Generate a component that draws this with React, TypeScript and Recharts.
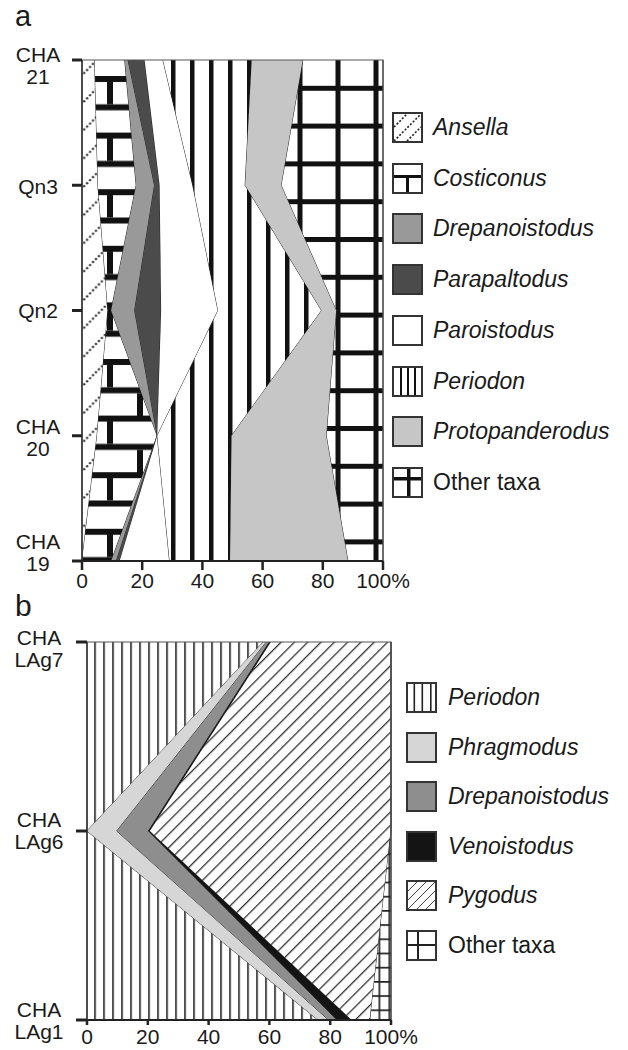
import React from "react";
import { AreaChart, Area, XAxis, YAxis, ReferenceArea } from "recharts";

// ---------- Panel a data ----------
const categoriesA = ["CHA 21", "Qn3", "Qn2", "CHA 20", "CHA 19"];
const seriesNamesA = [
  "Ansella",
  "Costiconus",
  "Drepanoistodus",
  "Parapaltodus",
  "Paroistodus",
  "Periodon",
  "Protopanderodus",
  "Other taxa",
];
const ansella = [4.2, 5.3, 8.6, 5, 0];
const costiconus = [10, 12.7, 1.1, 20, 9.7];
const drepanoistodusA = [1.1, 6.1, 7.8, 0, 1.7];
const parapaltodus = [5.5, 1.7, 8.8, 0, 1.1];
const paroistodus = [6.1, 11, 18.9, 0, 16.6];
const periodonA = [29.5, 17.4, 34.4, 24.7, 20.1];
const protopanderodus = [17.1, 12.1, 5, 31.6, 39.3];
const otherA = [26.5, 33.7, 15.4, 18.7, 11.5];
const valuesA = [ansella, costiconus, drepanoistodusA, parapaltodus, paroistodus, periodonA, protopanderodus, otherA];

// ---------- Panel b data ----------
const categoriesB = ["CHA LAg7", "CHA LAg6", "CHA LAg1"];
const seriesNamesB = ["Periodon", "Phragmodus", "Drepanoistodus", "Venoistodus", "Pygodus", "Other taxa"];
const periodonB = [58, 0, 76];
const phragmodus = [1, 9.8, 3.5];
const drepanoistodusB = [1, 10.4, 2.8];
const venoistodus = [0.5, 0.5, 4.8];
const pygodus = [39.5, 79.3, 6];
const otherB = [0, 0, 6.9];
const valuesB = [periodonB, phragmodus, drepanoistodusB, venoistodus, pygodus, otherB];

const xTicks = [0, 20, 40, 60, 80, 100];

const dataA = categoriesA.map((name, i) => {
  const row: Record<string, any> = { name };
  seriesNamesA.forEach((s, j) => (row[s] = valuesA[j][i]));
  return row;
});
const dataB = categoriesB.map((name, i) => {
  const row: Record<string, any> = { name };
  seriesNamesB.forEach((s, j) => (row[s] = valuesB[j][i]));
  return row;
});

// ---------- styles ----------
const FONT = "'Liberation Sans', Arial, sans-serif";
const fillsA: Record<string, string> = {
  Ansella: "url(#pa-ans)",
  Costiconus: "url(#pa-cost)",
  Drepanoistodus: "#999999",
  Parapaltodus: "#4b4b4b",
  Paroistodus: "#ffffff",
  Periodon: "url(#pa-per)",
  Protopanderodus: "#c6c6c6",
  "Other taxa": "url(#pa-oth)",
};
const fillsB: Record<string, string> = {
  Periodon: "url(#pb-per)",
  Phragmodus: "#d6d6d6",
  Drepanoistodus: "#8e8e8e",
  Venoistodus: "#141414",
  Pygodus: "url(#pb-pyg)",
  "Other taxa": "url(#pb-oth)",
};
const labelShiftA = [5, 1, 0, 2, -9];
const labelShiftB = [6, -1, 0];

const Defs = () => (
  <svg width={0} height={0} style={{ position: "absolute", left: 0, top: 0 }}>
    <defs>
      <pattern id="pa-ans" patternUnits="userSpaceOnUse" width={28} height={28.3} x={81.5} y={19}>
        <rect width={28} height={28.3} fill="#fff" />
        <line x1={-1} y1={29.3} x2={29} y2={-1} stroke="#111" strokeWidth={2} strokeDasharray="2 2.2" />
      </pattern>
      <pattern id="pa-cost" patternUnits="userSpaceOnUse" width={60} height={56.6} x={107} y={76}>
        <rect width={60} height={56.6} fill="#fff" />
        <rect x={0} y={0} width={60} height={6} fill="#111" />
        <rect x={0} y={28.3} width={60} height={6} fill="#111" />
        <rect x={0} y={6} width={6} height={22.3} fill="#111" />
        <rect x={30} y={34.3} width={6} height={22.3} fill="#111" />
      </pattern>
      <pattern id="pa-per" patternUnits="userSpaceOnUse" width={19} height={19} x={171} y={0}>
        <rect width={19} height={19} fill="#fff" />
        <rect x={0} y={0} width={4.5} height={19} fill="#111" />
      </pattern>
      <pattern id="pa-oth" patternUnits="userSpaceOnUse" width={38} height={37.8} x={297.5} y={10.2}>
        <rect width={38} height={37.8} fill="#fff" />
        <rect x={0} y={0} width={5} height={37.8} fill="#111" />
        <rect x={0} y={0} width={38} height={5} fill="#111" />
      </pattern>
      <pattern id="pb-per" patternUnits="userSpaceOnUse" width={9} height={9} x={94.2} y={0}>
        <rect width={9} height={9} fill="#fff" />
        <rect x={0} y={0} width={1.6} height={9} fill="#222" />
      </pattern>
      <pattern id="pb-pyg" patternUnits="userSpaceOnUse" width={9.4} height={9.4} patternTransform="rotate(45)">
        <rect width={9.4} height={9.4} fill="#fff" />
        <rect x={0} y={0} width={1.3} height={9.4} fill="#333" />
      </pattern>
      <pattern id="pb-oth" patternUnits="userSpaceOnUse" width={10} height={14.2} x={8.5} y={7.6}>
        <rect width={10} height={14.2} fill="#fff" />
        <rect x={0} y={0} width={1.7} height={14.2} fill="#222" />
        <rect x={0} y={0} width={10} height={1.7} fill="#222" />
      </pattern>
    </defs>
  </svg>
);

const makeTick = (textX: number, shifts: number[], cats: string[]) => (props: any) => {
  const { y, payload } = props;
  const idx = cats.indexOf(payload.value);
  const lines = String(payload.value).split(" ");
  const c = y + (shifts[idx] || 0);
  return (
    <g>
      {lines.map((l, i) => (
        <text
          key={i}
          x={textX}
          y={c + (i - (lines.length - 1) / 2) * 22}
          dy="0.36em"
          textAnchor="middle"
          fill="#1a1a1a"
          fontSize={21}
          fontFamily={FONT}
        >
          {l}
        </text>
      ))}
    </g>
  );
};

const LegendBox = ({ name, panel }: { name: string; panel: "a" | "b" }) => {
  const s = 31;
  const border = <rect x={1} y={1} width={s - 2} height={s - 2} fill="none" stroke="#333" strokeWidth={2} />;
  let inner: React.ReactNode = null;
  let bg = "#fff";
  if (panel === "a") {
    if (name === "Ansella")
      inner = (
        <g stroke="#222" strokeWidth={1.6} strokeDasharray="2 1.8">
          <line x1={2} y1={15} x2={15} y2={2} />
          <line x1={2} y1={29} x2={29} y2={2} />
          <line x1={15} y1={29} x2={29} y2={15} />
        </g>
      );
    if (name === "Costiconus")
      inner = (
        <g fill="#111">
          <rect x={1} y={12} width={29} height={3} />
          <rect x={14} y={12} width={3} height={18} />
        </g>
      );
    if (name === "Drepanoistodus") bg = "#999999";
    if (name === "Parapaltodus") bg = "#4b4b4b";
    if (name === "Protopanderodus") bg = "#c6c6c6";
    if (name === "Periodon")
      inner = (
        <g fill="#111">
          <rect x={8} y={1} width={2} height={29} />
          <rect x={15} y={1} width={2} height={29} />
          <rect x={22} y={1} width={2} height={29} />
        </g>
      );
    if (name === "Other taxa")
      inner = (
        <g fill="#111">
          <rect x={1} y={10} width={29} height={3.5} />
          <rect x={15} y={1} width={3.5} height={29} />
        </g>
      );
  } else {
    if (name === "Phragmodus") bg = "#d6d6d6";
    if (name === "Drepanoistodus") bg = "#8e8e8e";
    if (name === "Venoistodus") bg = "#141414";
    if (name === "Periodon")
      inner = (
        <g fill="#222">
          <rect x={7.5} y={1} width={1.6} height={29} />
          <rect x={15.5} y={1} width={1.6} height={29} />
          <rect x={24} y={1} width={1.6} height={29} />
        </g>
      );
    if (name === "Pygodus")
      inner = (
        <g stroke="#444" strokeWidth={1}>
          <line x1={2} y1={11} x2={11} y2={2} />
          <line x1={2} y1={20} x2={20} y2={2} />
          <line x1={2} y1={29} x2={29} y2={2} />
          <line x1={11} y1={29} x2={29} y2={11} />
          <line x1={20} y1={29} x2={29} y2={20} />
        </g>
      );
    if (name === "Other taxa")
      inner = (
        <g fill="#222">
          <rect x={1} y={14} width={29} height={2} />
          <rect x={11} y={1} width={2} height={29} />
        </g>
      );
  }
  return (
    <svg width={s} height={s} style={{ display: "block" }}>
      <rect x={1} y={1} width={s - 2} height={s - 2} fill={bg} />
      {inner}
      {border}
    </svg>
  );
};

const LegendHtml = ({
  names,
  panel,
  left,
  top,
  step,
  textLeft,
}: {
  names: string[];
  panel: "a" | "b";
  left: number;
  top: number;
  step: number;
  textLeft: number;
}) => (
  <>
    {names.map((n, i) => (
      <div
        key={n}
        style={{ position: "absolute", left, top: top + i * step, height: 31, display: "flex", alignItems: "center" }}
      >
        <LegendBox name={n} panel={panel} />
        <span
          style={{
            position: "absolute",
            left: textLeft - left,
            top: 0,
            lineHeight: "31px",
            whiteSpace: "nowrap",
            fontFamily: FONT,
            fontSize: 23,
            color: "#1a1a1a",
            fontStyle: n === "Other taxa" ? "normal" : "italic",
          }}
        >
          {n}
        </span>
      </div>
    ))}
  </>
);

const xFmt = (v: number) => (v === 100 ? "100%" : String(v));

export default function App() {
  return (
    <div style={{ position: "absolute", left: 0, top: 0, width: 628, height: 1050, background: "#fff", overflow: "hidden" }}>
      <Defs />
      <div style={{ position: "absolute", left: 15, top: 0, fontFamily: FONT, fontSize: 29, lineHeight: "33px", color: "#1a1a1a" }}>a</div>
      <div style={{ position: "absolute", left: 15, top: 589, fontFamily: FONT, fontSize: 30, lineHeight: "34px", color: "#1a1a1a" }}>b</div>

      <div style={{ position: "absolute", left: 0, top: 0 }}>
        <AreaChart
          width={628}
          height={591}
          data={dataA}
          layout="vertical"
          margin={{ top: 60, right: 245, bottom: 0, left: 0 }}
        >
          <XAxis
            type="number"
            domain={[0, 100]}
            ticks={xTicks}
            interval={0}
            tickFormatter={xFmt}
            height={30}
            tickSize={9}
            tickMargin={3}
            axisLine={{ stroke: "#222", strokeWidth: 2 }}
            tickLine={{ stroke: "#222", strokeWidth: 2.5 }}
            tick={{ fill: "#1a1a1a", fontSize: 21, fontFamily: FONT }}
          />
          <YAxis
            type="category"
            dataKey="name"
            width={82}
            interval={0}
            tickSize={10}
            axisLine={{ stroke: "#333", strokeWidth: 1.5 }}
            tickLine={{ stroke: "#222", strokeWidth: 3 }}
            tick={makeTick(38, labelShiftA, categoriesA)}
          />
          {seriesNamesA.map((s) => (
            <Area
              key={s}
              dataKey={s}
              stackId="a"
              type="linear"
              fill={fillsA[s]}
              fillOpacity={1}
              stroke="#222"
              strokeWidth={1}
              isAnimationActive={false}
              dot={false}
              activeDot={false}
            />
          ))}
          <ReferenceArea
            x1={0}
            x2={100}
            y1={categoriesA[0]}
            y2={categoriesA[categoriesA.length - 1]}
            fill="none"
            stroke="#555"
            strokeWidth={1.2}
            ifOverflow="visible"
          />
        </AreaChart>
      </div>
      <LegendHtml names={seriesNamesA} panel="a" left={392} top={112} step={50.7} textLeft={433} />

      <div style={{ position: "absolute", left: 0, top: 590 }}>
        <AreaChart
          width={628}
          height={460}
          data={dataB}
          layout="vertical"
          margin={{ top: 52, right: 237, bottom: 0, left: 0 }}
        >
          <XAxis
            type="number"
            domain={[0, 100]}
            ticks={xTicks}
            interval={0}
            tickFormatter={xFmt}
            height={30}
            tickSize={5}
            tickMargin={4}
            axisLine={{ stroke: "#222", strokeWidth: 2 }}
            tickLine={{ stroke: "#222", strokeWidth: 2.5 }}
            tick={{ fill: "#1a1a1a", fontSize: 21, fontFamily: FONT }}
          />
          <YAxis
            type="category"
            dataKey="name"
            width={87}
            interval={0}
            tickSize={11}
            axisLine={{ stroke: "#333", strokeWidth: 1.5 }}
            tickLine={{ stroke: "#222", strokeWidth: 3 }}
            tick={makeTick(39, labelShiftB, categoriesB)}
          />
          {seriesNamesB.map((s) => (
            <Area
              key={s}
              dataKey={s}
              stackId="b"
              type="linear"
              fill={fillsB[s]}
              fillOpacity={1}
              stroke="#222"
              strokeWidth={1}
              isAnimationActive={false}
              dot={false}
              activeDot={false}
            />
          ))}
          <ReferenceArea
            x1={0}
            x2={100}
            y1={categoriesB[0]}
            y2={categoriesB[categoriesB.length - 1]}
            fill="none"
            stroke="#555"
            strokeWidth={1.2}
            ifOverflow="visible"
          />
        </AreaChart>
      </div>
      <LegendHtml names={seriesNamesB} panel="b" left={406} top={682} step={49.6} textLeft={448} />
    </div>
  );
}
